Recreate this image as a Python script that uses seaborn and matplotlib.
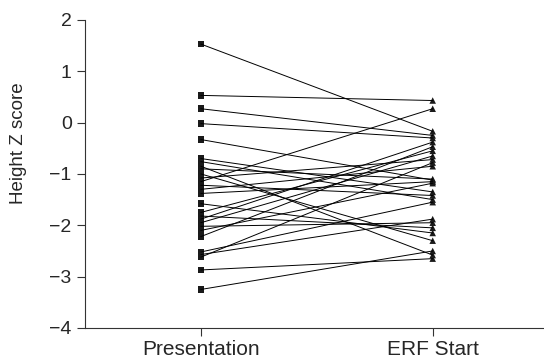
import pandas as pd
import matplotlib
matplotlib.use("Agg")
import matplotlib.pyplot as plt
import seaborn as sns

TIMEPOINTS = ["Presentation", "ERF Start"]

# Height Z score per patient, paired
presentation = [1.53, 0.53, 0.27, -0.02, -0.33, -0.70, -0.76, -0.85, -0.90, -1.00,
                -1.08, -1.15, -1.22, -1.30, -1.38, -1.58, -1.75, -1.82, -1.88, -1.95,
                -2.02, -2.10, -2.22, -2.52, -2.57, -2.62, -2.87, -3.25]
erf_start = [-0.17, 0.43, -0.25, -0.30, -1.12, -1.35, -1.50, -2.58, -1.10, -2.30,
             -0.72, 0.27, -1.42, -0.85, -1.15, -2.15, -0.55, -2.05, -0.38, -0.65,
             -1.95, -1.18, -0.47, -1.55, -1.88, -0.78, -2.65, -2.50]

Y_TICKS = [-4, -3, -2, -1, 0, 1, 2]

rows = []
for i, (a, b) in enumerate(zip(presentation, erf_start)):
    rows.append({"patient": i, "time": TIMEPOINTS[0], "x": 0, "z": a})
    rows.append({"patient": i, "time": TIMEPOINTS[1], "x": 1, "z": b})
df = pd.DataFrame(rows)

sns.set_style("ticks")
plt.rcParams["font.family"] = ["Liberation Sans", "DejaVu Sans"]

fig = plt.figure(figsize=(5.44, 3.62), dpi=100)
ax = fig.add_axes([0.156, 0.094, 0.844, 0.851])

sns.lineplot(data=df, x="x", y="z", units="patient", estimator=None,
             color="black", lw=0.7, ax=ax, legend=False)
sns.scatterplot(data=df, x="x", y="z", style="time",
                markers={"Presentation": "s", "ERF Start": "^"},
                color="#1a1a1a", s=22, edgecolor="none", ax=ax, legend=False)

ax.set_xlim(-0.5, 1.48)
ax.set_ylim(-4, 2)
ax.set_xticks([0, 1])
ax.set_xticklabels(TIMEPOINTS, fontsize=15)
ax.set_yticks(Y_TICKS)
ax.set_yticklabels([str(t).replace("-", "\u2212") for t in Y_TICKS], fontsize=14)
ax.set_xlabel("")
ax.set_ylabel("Height Z score", fontsize=13.5)
ax.yaxis.set_label_coords(-0.125, 0.6)
ax.tick_params(length=6, width=0.8, color="#333333")
ax.tick_params(axis="x", pad=3)
for s in ["top", "right"]:
    ax.spines[s].set_visible(False)
for s in ["left", "bottom"]:
    ax.spines[s].set_linewidth(0.8)
    ax.spines[s].set_color("#333333")

fig.savefig("out.png", dpi=100)
